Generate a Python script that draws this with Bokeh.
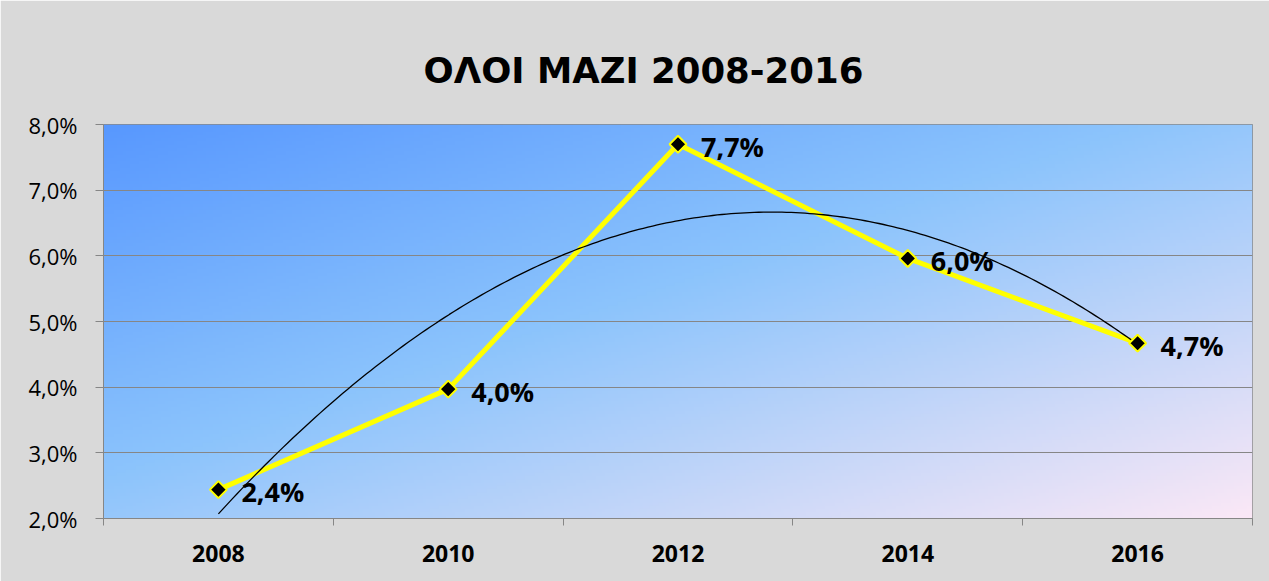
import numpy as np
from bokeh.plotting import figure
from bokeh.models import ColumnDataSource, FixedTicker, LabelSet, Range1d
from bokeh.core.properties import value
from bokeh.embed import file_html
from bokeh.resources import INLINE

# ---- data ----
years = ["2008", "2010", "2012", "2014", "2016"]
values = [2.44, 3.97, 7.70, 5.96, 4.67]
data_labels = ["2,4%", "4,0%", "7,7%", "6,0%", "4,7%"]
y_ticks = [2, 3, 4, 5, 6, 7, 8]
y_tick_labels = ["2,0%", "3,0%", "4,0%", "5,0%", "6,0%", "7,0%", "8,0%"]
title_text = "ΟΛΟΙ ΜΑΖΙ 2008-2016"

xpos = [i + 0.5 for i in range(len(years))]
src = ColumnDataSource(dict(x=xpos, y=values, lab=data_labels))

p = figure(width=1269, height=581,
           x_range=Range1d(0, len(years)), y_range=Range1d(y_ticks[0], y_ticks[-1]),
           output_backend="svg", toolbar_location=None,
           min_border_left=103, min_border_right=17, min_border_top=124, min_border_bottom=63,
           background_fill_color="#8cc4fc", border_fill_color="#d9d9d9")

# title
p.title.text = title_text
p.title.align = "left"
p.title.offset = 320
p.title.standoff = 68
p.title.text_font = "DejaVu Sans"
p.title.text_font_style = "bold"
p.title.text_font_size = "35.5px"
p.title.text_color = "black"

# gradient background of plot area
H, W = 120, 360
xs = np.linspace(0, 1, W)
ys_top = np.linspace(1, 0, H)
t = (xs[None, :] + ys_top[:, None]) / 2.0
stops = [0.0, 0.45, 1.0]
cols = [(88, 152, 255), (140, 196, 252), (251, 232, 246)]
img = np.empty((H, W), dtype=np.uint32)
view = img.view(dtype=np.uint8).reshape((H, W, 4))
for ch in range(3):
    view[:, :, ch] = np.interp(t, stops, [c[ch] for c in cols]).astype(np.uint8)
view[:, :, 3] = 255
p.image_rgba(image=[img], x=0, y=y_ticks[0], dw=len(years), dh=y_ticks[-1] - y_ticks[0], level="image")

# main series line
p.line("x", "y", source=src, line_color="#ffff00", line_width=5)

# polynomial (order 2) trend line
coef = np.polyfit(np.array(xpos), np.array(values), 2)
tx = np.linspace(xpos[0], xpos[-1], 200)
p.line(tx, np.polyval(coef, tx), line_color="black", line_width=1.3)

# markers
p.scatter("x", "y", source=src, marker="square", angle=np.pi / 4, size=12,
          fill_color="black", line_color="#ffff00", line_width=2)

# data labels
p.add_layout(LabelSet(x="x", y="y", text="lab", source=src, x_offset=23, y_offset=-2,
                      text_baseline="middle", text_align="left",
                      text_font=value("Open Sans"), text_font_style="bold",
                      text_font_size=value("27px"), text_color="black"))

# axes
p.xgrid.visible = False
yt = FixedTicker(ticks=y_ticks, minor_ticks=[])
p.yaxis.ticker = yt
p.ygrid.ticker = yt
p.ygrid.grid_line_color = "#868686"
p.ygrid.grid_line_width = 1

p.xaxis.ticker = FixedTicker(ticks=xpos, minor_ticks=list(range(len(years) + 1)))
p.xaxis.major_label_overrides = {x: y for x, y in zip(xpos, years)}
p.xaxis.major_tick_line_color = None
p.xaxis.major_tick_out = 0
p.xaxis.major_tick_in = 0
p.xaxis.minor_tick_out = 7
p.xaxis.minor_tick_in = 0
p.xaxis.minor_tick_line_color = "#868686"
p.xaxis.axis_line_color = "#868686"
p.xaxis.major_label_text_font = "Open Sans"
p.xaxis.major_label_text_font_style = "bold"
p.xaxis.major_label_text_font_size = "23px"
p.xaxis.major_label_text_color = "black"
p.xaxis.major_label_standoff = 19

p.yaxis.major_label_overrides = {t_: l for t_, l in zip(y_ticks, y_tick_labels)}
p.yaxis.major_tick_out = 8
p.yaxis.major_tick_in = 0
p.yaxis.minor_tick_line_color = None
p.yaxis.major_tick_line_color = "#868686"
p.yaxis.axis_line_color = "#868686"
p.yaxis.major_label_text_font = "Open Sans"
p.yaxis.major_label_text_font_size = "22px"
p.yaxis.major_label_text_color = "black"
p.yaxis.major_label_standoff = 18

p.outline_line_color = "#898989"
p.outline_line_width = 1

open("out.html", "w").write(file_html(p, INLINE))
